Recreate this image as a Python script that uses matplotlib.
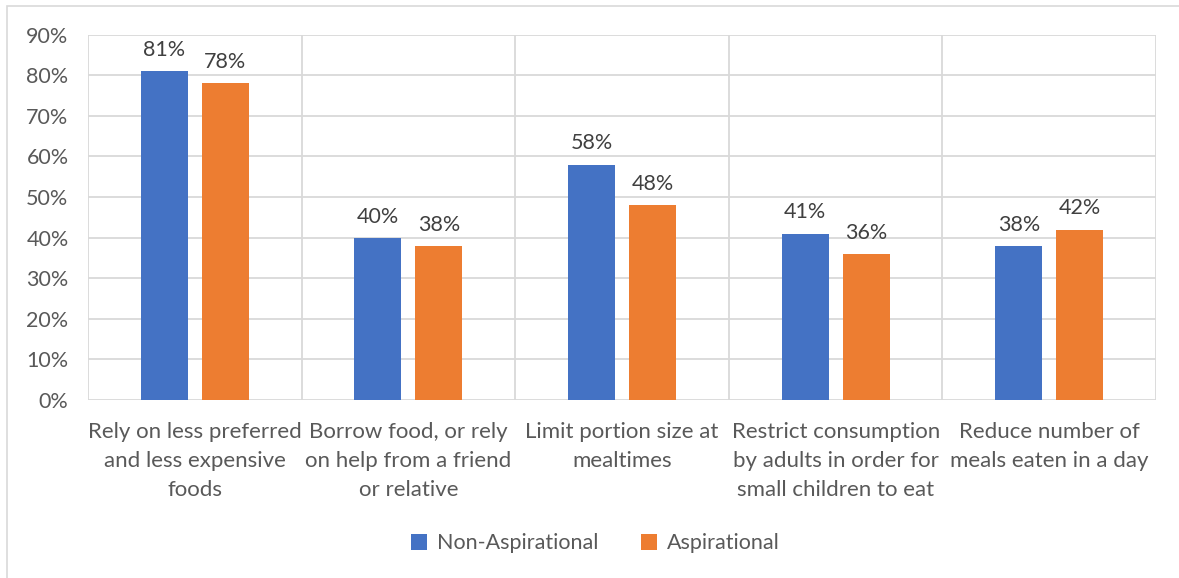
import matplotlib.pyplot as plt
import numpy as np
from matplotlib.patches import Rectangle
from matplotlib.ticker import PercentFormatter

categories = ["Rely on less preferred\nand less expensive\nfoods",
              "Borrow food, or rely\non help from a friend\nor relative",
              "Limit portion size at\nmealtimes",
              "Restrict consumption\nby adults in order for\nsmall children to eat",
              "Reduce number of\nmeals eaten in a day"]
non_aspirational = [81, 40, 58, 41, 38]
aspirational = [78, 38, 48, 36, 42]
series_names = ["Non-Aspirational", "Aspirational"]

blue = "#4472C4"
orange = "#ED7D31"
grid = "#D9D9D9"
text_gray = "#595959"

plt.rcParams['font.family'] = ['Lato', 'DejaVu Sans']

fig = plt.figure(figsize=(11.79, 5.78), dpi=100)
ax = fig.add_axes([0.0746, 0.308, 0.906, 0.632])

x = np.arange(len(categories))
w = 0.22
off = 0.143
b1 = ax.bar(x - off, non_aspirational, w, color=blue, label=series_names[0], zorder=3)
b2 = ax.bar(x + off, aspirational, w, color=orange, label=series_names[1], zorder=3)

for bars in (b1, b2):
    for rect in bars:
        h = rect.get_height()
        ax.annotate(f"{h:.0f}%", (rect.get_x() + rect.get_width() / 2, h),
                    xytext=(0, 8), textcoords="offset points",
                    ha="center", va="bottom", fontsize=15.5, color="#404040")

ax.set_xlim(-0.5, len(categories) - 0.5)
ax.set_ylim(0, 90)
ax.set_yticks(range(0, 91, 10))
ax.yaxis.set_major_formatter(PercentFormatter(decimals=0))
ax.set_xticks(x)
ax.set_xticklabels(categories, fontsize=16, color=text_gray, linespacing=1.55)
ax.tick_params(axis="y", labelsize=15.5, labelcolor=text_gray, length=0, pad=14)
ax.tick_params(axis="x", length=0, pad=16)

# horizontal gridlines plus vertical category separators
ax.yaxis.grid(True, color=grid, linewidth=1.3, zorder=0)
for b in np.arange(-0.5, len(categories), 1.0):
    ax.axvline(b, color=grid, linewidth=1.3, zorder=0)
for s in ax.spines.values():
    s.set_visible(False)

fig.legend(loc="center", bbox_to_anchor=(0.505, 0.06), ncol=2, frameon=False,
           fontsize=15.5, labelcolor=text_gray, handlelength=0.75, handleheight=0.75,
           columnspacing=2.0, handletextpad=0.45)

# chart area border
fig.patches.append(Rectangle((7 / 1179, -0.1), 1.2, 1.1 - 6 / 578, transform=fig.transFigure,
                             fill=False, edgecolor=grid, linewidth=1.2))

fig.savefig("out.png", dpi=100)
